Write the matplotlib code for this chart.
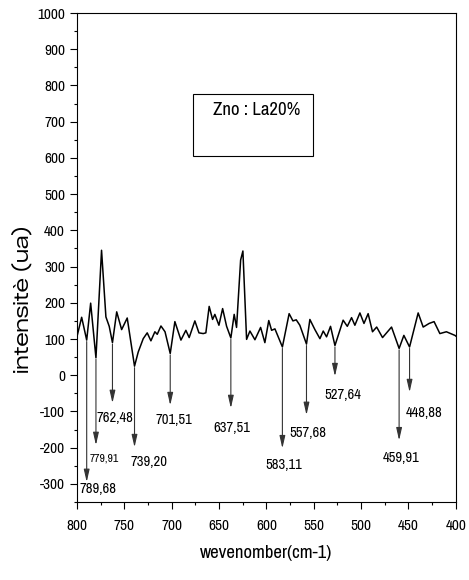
import numpy as np
import matplotlib
matplotlib.use("Agg")
import matplotlib.pyplot as plt
from matplotlib.patches import Rectangle

plt.rcParams['font.family'] = ['Archivo Narrow', 'Liberation Sans', 'DejaVu Sans']
plt.rcParams['axes.unicode_minus'] = False

# spectrum, read from high to low wavenumber
wavenumber = [800, 795, 789.68, 785.5, 779.91, 774, 769.4, 765.9, 762.48, 758,
              752.8, 746.9, 739.20, 735.3, 730, 725.8, 721.9, 717.7, 715.2, 711.3,
              707, 701.51, 696.6, 690.2, 685, 681.5, 675.5, 671.2, 666.7, 663.9,
              660.4, 656.8, 654.4, 650.1, 646.2, 642, 637.51, 634, 631.5, 627.2,
              624.8, 620.9, 617.4, 612.1, 606.1, 601.6, 597.5, 594.5, 591, 583.11,
              576, 572, 568.5, 564.7, 557.68, 554.1, 548.8, 543.5, 540, 536.5,
              532.3, 527.64, 519, 514.6, 510.1, 506.6, 501.3, 497, 492.6, 488,
              483.6, 477.4, 467.9, 459.91, 454.9, 448.88, 439.8, 434.5, 428.2, 423,
              416.9, 410, 401, 400]
intensity = [106, 160, 97, 199, 48, 345, 161, 135, 90, 175,
             126, 158, 25, 64, 101, 117, 95, 120, 113, 136,
             120, 60, 148, 97, 124, 104, 150, 117, 115, 117,
             190, 154, 168, 138, 184, 135, 103, 168, 132, 318,
             343, 99, 122, 98, 132, 90, 151, 124, 128, 78,
             170, 150, 153, 138, 86, 154, 126, 101, 122, 106,
             135, 82, 152, 135, 159, 138, 172, 143, 170, 120,
             133, 104, 133, 74, 110, 78, 172, 133, 143, 148,
             115, 120, 110, 108]

# marked bands
peaks = [789.68, 779.91, 762.48, 739.20, 701.51, 637.51, 583.11, 557.68, 527.64, 459.91, 448.88]

# arrow tip heights and label placement
arrow_tip = [-295, -193, -77, -199, -83, -91, -202, -110, -3, -180, -47]
label_xy = [(777.3, -315), (771, -229), (759.4, -119), (724, -240), (697.6, -124),
            (637, -146), (581.5, -249), (555.7, -160), (519.8, -55), (458, -229),
            (433.8, -105)]
label_size = [10.5, 8.5, 10.5, 10.5, 10.5, 10.5, 10.5, 10.5, 10.5, 10.5, 10.5]

fig = plt.figure(figsize=(4.69, 5.8), dpi=100)
ax = fig.add_axes([0.164, 0.1345, 0.808, 0.843])

ax.plot(wavenumber, intensity, color='black', lw=1.1)

wn_sorted = np.array(wavenumber)[::-1]
it_sorted = np.array(intensity)[::-1]
for p, tip, (tx, ty), fs in zip(peaks, arrow_tip, label_xy, label_size):
    start = np.interp(p, wn_sorted, it_sorted) - 4
    ax.annotate('', xy=(p, tip), xytext=(p, start),
                arrowprops=dict(arrowstyle='-|>,head_length=0.75,head_width=0.17',
                                color='#333333', lw=0.8,
                                mutation_scale=10, shrinkA=0, shrinkB=0))
    ax.text(tx, ty, f"{p:.2f}".replace('.', ','), fontsize=fs,
            ha='center', va='center')

# sample label box
ax.add_patch(Rectangle((677.9, 605), 551.2 - 677.9, 776 - 605,
                       fill=False, edgecolor='black', lw=0.8))
ax.text(656.5, 732, 'Zno : La20%', fontsize=13.5, ha='left', va='center')

ax.set_xlim(800, 400)
ax.set_ylim(-350, 1000)
ax.set_xticks(np.arange(800, 399, -50))
ax.set_xticks(np.arange(775, 400, -50), minor=True)
ax.set_yticks(np.arange(-300, 1001, 100))
ax.set_yticks(np.arange(-350, 1001, 100), minor=True)
ax.tick_params(which='major', length=5, width=0.8, labelsize=11)
ax.tick_params(which='minor', length=2.5, width=0.8)
ax.tick_params(axis='x', which='major', pad=7)
for s in ax.spines.values():
    s.set_linewidth(0.8)

ax.set_xlabel('wevenomber(cm-1)', fontsize=13.5, labelpad=9)
ax.set_ylabel('intensitè (ua)', fontsize=14.5,
              family=['Zalando Sans Expanded', 'Encode Sans Expanded', 'DejaVu Sans'])
ax.yaxis.set_label_coords(-0.115, 0.415)

fig.savefig('out.png', dpi=100)
